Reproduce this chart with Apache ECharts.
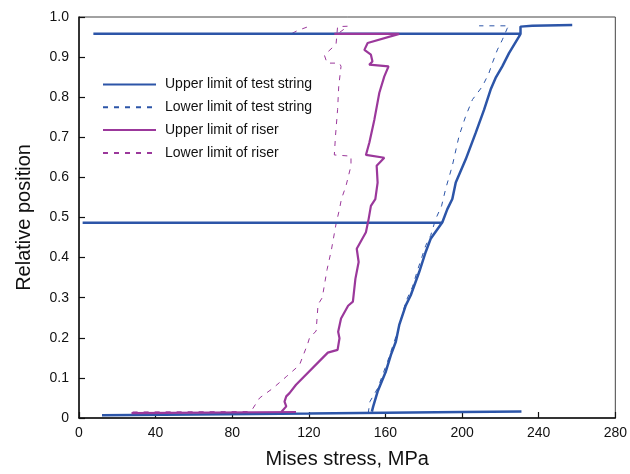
<!DOCTYPE html>
<html>
<head>
<meta charset="utf-8">
<script src="https://cdn.jsdelivr.net/npm/echarts@6/dist/echarts.min.js"></script>
<style>html,body{margin:0;padding:0;background:#fff}#c{width:630px;height:474px}</style>
</head>
<body>
<div id="c"></div>
<script>
// Upper limit of test string (solid blue)
const upperTestRise = [[152.9,0.016],[153.6,0.029],[155.9,0.066],[160.2,0.116],[162.8,0.157],[165.4,0.19],[167.2,0.232],[170.6,0.281],[173.2,0.306],[177.6,0.364],[181,0.414],[183.6,0.447],[189.7,0.488],[192.3,0.521],[194.9,0.546],[196.7,0.587],[201.9,0.645],[207.1,0.711],[211.5,0.769],[214.9,0.819],[217.5,0.848],[221,0.877],[224.5,0.91],[229.7,0.951],[230.5,0.958],[230.5,0.976],[236.6,0.978],[257.5,0.98]];
const upperTestTop = [[230.5,0.958],[7.5,0.958]];
const upperTestMid = [[1.9,0.487],[189.7,0.487]];
const upperTestBottom = [[12,0.007],[60,0.009],[120,0.011],[160,0.013],[200,0.015],[231,0.016]];
// Lower limit of test string (dashed blue)
const lowerTestBottom = [[113,0.011],[151,0.012]];
const lowerTestRise = [[151,0.012],[151.9,0.041],[155.9,0.074],[161.1,0.141],[166.3,0.215],[170.6,0.29],[174.1,0.327],[176.7,0.368],[181,0.43],[183.6,0.455],[186.2,0.496],[189.3,0.529],[191.4,0.571],[194.9,0.629],[198.4,0.703],[201.9,0.753],[205.4,0.794],[210.6,0.827],[214,0.86],[215.8,0.885],[218.4,0.918],[221,0.943],[223.6,0.972],[224.5,0.978],[208.9,0.978]];
// Upper limit of riser (solid purple)
const upperRiserBottom = [[27.4,0.012],[113.3,0.015]];
const upperRiserRise = [[105.6,0.015],[108.2,0.029],[107.3,0.041],[108.2,0.054],[109.9,0.062],[113.3,0.083],[129.9,0.163],[135,0.17],[136,0.199],[135.3,0.215],[136.8,0.248],[140.5,0.28],[143,0.29],[144.3,0.347],[146,0.389],[145,0.422],[149.8,0.463],[151.2,0.496],[152.4,0.529],[154.7,0.546],[155.9,0.587],[155.4,0.629],[159.4,0.649],[149.8,0.656],[151.6,0.687],[154.2,0.744],[156.8,0.811],[159.4,0.852],[161.6,0.877],[162,0.881],[151.5,0.881],[153.2,0.889],[152.4,0.906],[149,0.918],[150.7,0.935],[167.2,0.958],[133.3,0.958]];
// Lower limit of riser (dashed purple)
const lowerRiser = [[28,0.015],[88,0.016],[90.4,0.021],[94.3,0.05],[101.2,0.074],[108.2,0.103],[115.1,0.132],[119.4,0.185],[120.3,0.199],[123.8,0.217],[124.8,0.283],[127,0.3],[129.5,0.37],[131.8,0.42],[134.2,0.484],[136,0.521],[137,0.546],[139.4,0.579],[142,0.629],[142,0.653],[133.3,0.656],[133.9,0.703],[135,0.769],[135.6,0.827],[136.8,0.877],[136,0.885],[129.5,0.885],[128.1,0.905],[134.2,0.932],[135,0.976],[140.5,0.977],[135,0.958],[110.8,0.958],[114,0.966],[120.3,0.977]];

const xTicks = [0,40,80,120,160,200,240,280];
const names = ['Upper limit of test string','Lower limit of test string','Upper limit of riser','Lower limit of riser'];

const BLUE = '#2c55a8', PURPLE = '#9b389b';
function seg(name, data, color, width, dashed, z){
  return {name, type:'line', data, symbol:'none', showSymbol:false, z: z||2, animation:false,
    lineStyle:{color, width, type: dashed ? [5,6] : 'solid'}, itemStyle:{color}};
}
const series = [
  seg(names[0], upperTestBottom, BLUE, 2.5, false, 3),
  seg(names[1], lowerTestBottom, BLUE, 1, true, 2),
  seg(names[2], upperRiserBottom, PURPLE, 2.2, false, 4),
  seg(names[3], lowerRiser, PURPLE, 1, true, 2),
  seg(names[0], upperTestRise, BLUE, 2.5, false, 3),
  seg(names[0], upperTestTop, BLUE, 2.5, false, 3),
  seg(names[0], upperTestMid, BLUE, 2.5, false, 3),
  seg(names[1], lowerTestRise, BLUE, 1, true, 2),
  seg(names[2], upperRiserRise, PURPLE, 2.2, false, 4)
];

const chart = echarts.init(document.getElementById('c'), null, {renderer:'canvas'});
const FONT = '"Liberation Sans", Arial, sans-serif';
chart.setOption({
  animation:false,
  backgroundColor:'#fff',
  textStyle:{fontFamily:FONT},
  grid:{left:79, right:13, top:17, bottom:54, show:true, borderColor:'#444', borderWidth:1, backgroundColor:'transparent'},
  legend:{
    data:names, orient:'vertical', left:97, top:72.5, itemWidth:53, itemHeight:14, itemGap:8.8,
    itemStyle:{opacity:0},
    textStyle:{fontFamily:FONT, fontSize:14, color:'#111', padding:[0,0,0,4]}
  },
  xAxis:{
    type:'value', min:0, max:280, interval:40,
    name:'Mises stress, MPa', nameLocation:'middle', nameGap:31,
    nameTextStyle:{fontFamily:FONT, fontSize:20, color:'#111'},
    axisLine:{onZero:false, lineStyle:{color:'#111', width:1.5}},
    axisTick:{inside:true, length:6, lineStyle:{color:'#111', width:1.2}},
    axisLabel:{fontFamily:FONT, fontSize:14, color:'#111', margin:8},
    splitLine:{show:false}
  },
  yAxis:{
    type:'value', min:0, max:1, interval:0.1,
    name:'Relative position', nameLocation:'middle', nameGap:45,
    nameTextStyle:{fontFamily:FONT, fontSize:20, color:'#111'},
    axisLine:{onZero:false, lineStyle:{color:'#111', width:1.5}},
    axisTick:{inside:true, length:6, lineStyle:{color:'#111', width:1.2}},
    axisLabel:{fontFamily:FONT, fontSize:14, color:'#111', margin:10,
      formatter:v=> v===0 ? '0' : v.toFixed(1)},
    splitLine:{show:false}
  },
  series
});
</script>
</body>
</html>
